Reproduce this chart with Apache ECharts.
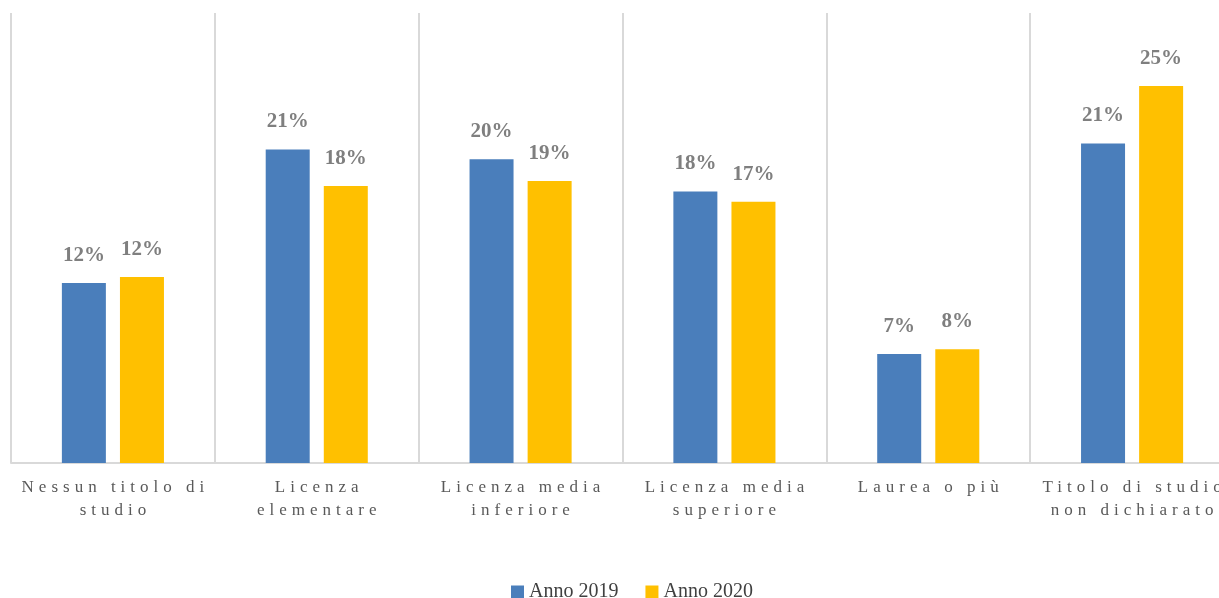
<!DOCTYPE html>
<html>
<head>
<meta charset="utf-8">
<script src="https://cdn.jsdelivr.net/npm/echarts@6/dist/echarts.min.js"></script>
<style>
html,body{margin:0;padding:0;background:#fff;overflow:hidden;width:1219px;height:598px;}
#chart{width:1240px;height:598px;}
</style>
</head>
<body>
<div id="chart"></div>
<script>
// Data
const categories = [
  "Nessun titolo di\nstudio",
  "Licenza\nelementare",
  "Licenza media\ninferiore",
  "Licenza media\nsuperiore",
  "Laurea o più",
  "Titolo di studio\nnon dichiarato"
];
const seriesNames = ["Anno 2019", "Anno 2020"];
const values2019 = [12.0, 20.9, 20.25, 18.1, 7.27, 21.3];
const values2020 = [12.4, 18.47, 18.8, 17.42, 7.58, 25.13];

// letter-spaced axis labels (17px text only)
(function(){
  const proto = CanvasRenderingContext2D.prototype;
  const orig = proto.fillText;
  proto.fillText = function(t, x, y, mw){
    const spaced = /(^|\s)17px(\s|$)/.test(this.font);
    if ('letterSpacing' in this) this.letterSpacing = spaced ? '5px' : '0px';
    if (spaced && this.textAlign === 'center') x += 2.5;
    return mw === undefined ? orig.call(this, t, x, y) : orig.call(this, t, x, y, mw);
  };
})();

const FONT = "'Liberation Serif', serif";
const chart = echarts.init(document.getElementById('chart'), null, {renderer: 'canvas'});
const labelOpt = {
  show: true,
  position: 'top',
  distance: 17,
  color: '#7f7f7f',
  fontWeight: 'bold',
  fontSize: 21,
  fontFamily: FONT,
  formatter: p => Math.round(p.value) + '%'
};
chart.setOption({
  animation: false,
  color: ['#4a7ebb', '#ffc000'],
  grid: {left: 11, top: 13, width: 1223, height: 450, containLabel: false},
  legend: {
    data: seriesNames,
    left: 511,
    top: 582,
    padding: 0,
    itemWidth: 13,
    itemHeight: 13,
    itemGap: 27,
    icon: 'rect',
    textStyle: {fontFamily: FONT, fontSize: 20, color: '#404040'}
  },
  xAxis: {
    type: 'category',
    data: categories,
    axisLine: {lineStyle: {color: '#d9d9d9', width: 2}},
    axisTick: {show: false},
    splitLine: {show: true, lineStyle: {color: '#d9d9d9', width: 2}},
    axisLabel: {
      interval: 0,
      margin: 13,
      fontFamily: FONT,
      fontSize: 17,
      lineHeight: 23,
      color: '#595959'
    }
  },
  yAxis: {
    type: 'value',
    min: 0,
    max: 30,
    show: false,
    splitLine: {show: false}
  },
  series: [
    {name: seriesNames[0], type: 'bar', data: values2019, barWidth: 44, barGap: '32%', label: labelOpt},
    {name: seriesNames[1], type: 'bar', data: values2020, barWidth: 44, barGap: '32%', label: labelOpt}
  ]
});
</script>
</body>
</html>
